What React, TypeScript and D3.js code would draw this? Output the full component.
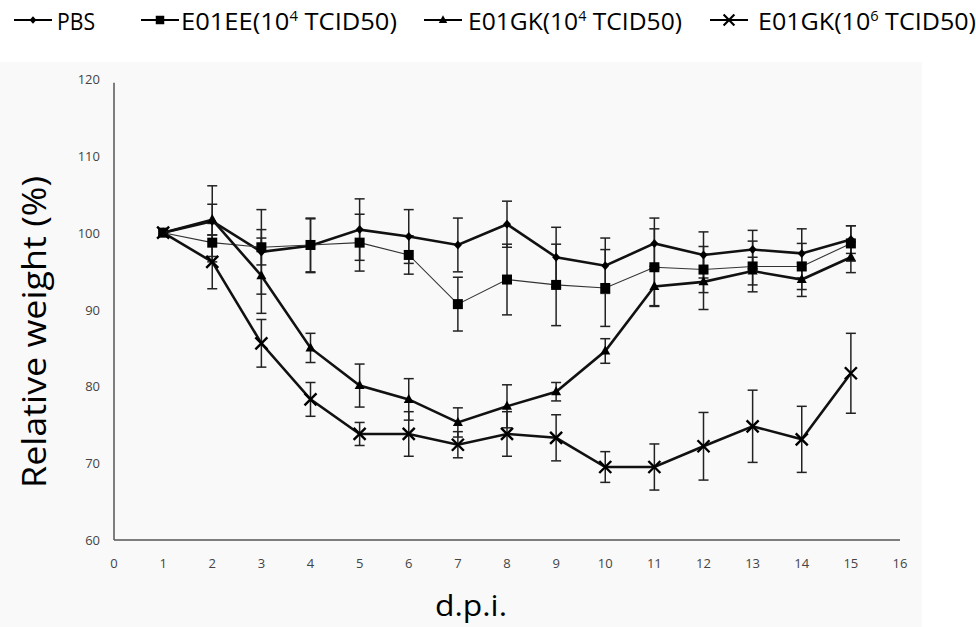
import * as d3 from 'd3';
import React from 'react';

// days post infection
const days = [1, 2, 3, 4, 5, 6, 7, 8, 9, 10, 11, 12, 13, 14, 15];

const pbs = [100, 101.5, 97.5, 98.3, 100.4, 99.5, 98.4, 101.1, 96.8, 95.7, 98.6, 97.1, 97.8, 97.3, 99.1];
const pbsErr = [0, 4.6, 5.5, 3.5, 4.0, 3.5, 3.5, 3.0, 3.9, 3.6, 3.3, 3.0, 2.5, 3.2, 1.8];

const ee4 = [100, 98.7, 98.1, 98.4, 98.7, 97.1, 90.7, 93.9, 93.2, 92.8, 95.5, 95.2, 95.6, 95.6, 98.6];
const ee4Err = [0, 2.5, 2.3, 3.5, 3.7, 2.5, 3.5, 4.6, 5.3, 5.0, 5.0, 3.0, 3.3, 3.0, 2.3];

const gk4 = [100, 101.7, 94.4, 85.0, 80.1, 78.3, 75.3, 77.4, 79.3, 84.6, 93.0, 93.6, 95.0, 93.9, 96.8];
const gk4Err = [0, 2.0, 4.9, 1.9, 2.8, 2.7, 1.9, 2.8, 1.2, 1.6, 2.6, 3.6, 1.8, 2.2, 2.0];

const gk6 = [100, 96.2, 85.6, 78.3, 73.8, 73.8, 72.4, 73.8, 73.3, 69.5, 69.5, 72.2, 74.8, 73.1, 81.7];
const gk6Err = [0, 3.5, 3.1, 2.2, 1.5, 2.9, 1.7, 2.9, 3.0, 2.0, 3.0, 4.4, 4.7, 4.3, 5.2];

const xTicks = d3.range(0, 17);
const yTicks = [60, 70, 80, 90, 100, 110, 120];

const W = 976;
const H = 627;
const m = { left: 114, right: 76, top: 79, bottom: 87 };

type Marker = 'diamond' | 'square' | 'triangle' | 'cross';

const series = [
    { name: 'PBS', sup: '', values: pbs, err: pbsErr, marker: 'diamond' as Marker, width: 2.6, color: '#111' },
    { name: 'E01EE(10', sup: '4', values: ee4, err: ee4Err, marker: 'square' as Marker, width: 1.1, color: '#333' },
    { name: 'E01GK(10', sup: '4', values: gk4, err: gk4Err, marker: 'triangle' as Marker, width: 2.6, color: '#111' },
    { name: 'E01GK(10', sup: '6', values: gk6, err: gk6Err, marker: 'cross' as Marker, width: 2.6, color: '#111' }
];

const legendPos = [
    { line: 14, text: 57, len: 38 },
    { line: 141, text: 181, len: 216 },
    { line: 424, text: 468, len: 214 },
    { line: 710, text: 758, len: 218 }
];

/**
 * Draws one marker centred on 0,0.
 */
function MarkerShape({ kind, x, y, s = 1 }: { kind: Marker; x: number; y: number; s?: number }) {
    const t = `translate(${x},${y}) scale(${s})`;
    if (kind === 'diamond') {
        return <path transform={t} d='M0,-4.5L4,0L0,4.5L-4,0Z' fill='#000' />;
    }
    if (kind === 'square') {
        return <rect transform={t} x={-5} y={-5} width={10} height={10} fill='#000' />;
    }
    if (kind === 'triangle') {
        return <path transform={t} d='M0,-5.5L5,3.5L-5,3.5Z' fill='#000' />;
    }
    return (
        <path
            transform={t}
            d='M-6,-6L6,6M-6,6L6,-6'
            stroke='#000'
            strokeWidth={2.4}
            fill='none' />
    );
}

export default function App() {
    const x = d3.scaleLinear().domain([ 0, 16 ]).range([ m.left, W - m.right ]);
    const y = d3.scaleLinear().domain([ 60, 120 ]).range([ H - m.bottom, m.top ]);

    const line = d3.line<number>()
        .x((_, i) => x(days[i]))
        .y(d => y(d));

    const font = '"Open Sans", "Liberation Sans", sans-serif';

    return (
        <svg
            width={W}
            height={H}
            style={{ position: 'absolute', left: 0, top: 0, background: '#fff' }}
            fontFamily={font}>
            <rect x={0} y={62} width={922} height={H - 62} fill='#f9f9f9' />

            {/* legend */}
            <g>
                {series.map((s, i) => {
                    const p = legendPos[i];
                    return (
                        <g key={i}>
                            <line x1={p.line} x2={p.line + 38} y1={20} y2={20} stroke='#000' strokeWidth={2.2} />
                            <MarkerShape kind={s.marker} x={p.line + 19} y={20} s={s.marker === 'cross' ? 0.9 : 0.85} />
                            <text
                                x={p.text}
                                y={30}
                                fontSize={24}
                                fill='#000'
                                textLength={p.len}
                                lengthAdjust='spacingAndGlyphs'>
                                {s.name}
                                {s.sup && <tspan dy={-9} fontSize={14}>{s.sup}</tspan>}
                                {s.sup && <tspan dy={9}>{' TCID50)'}</tspan>}
                            </text>
                        </g>
                    );
                })}
            </g>

            {/* axes */}
            <line x1={m.left} x2={m.left} y1={y(119.5)} y2={y(60)} stroke='#555' strokeWidth={1.5} />
            <line x1={m.left} x2={x(16)} y1={y(60)} y2={y(60)} stroke='#555' strokeWidth={1.5} />

            {yTicks.map(t => (
                <text key={t} x={100} y={y(t) + 5} textAnchor='end' fontSize={13} fill='#444'>{t}</text>
            ))}
            {xTicks.map(t => (
                <text key={t} x={x(t)} y={y(60) + 28} textAnchor='middle' fontSize={13} fill='#444'>{t}</text>
            ))}

            <text
                transform={`translate(46,${332}) rotate(-90)`}
                textAnchor='middle'
                fontSize={32}
                textLength={312}
                lengthAdjust='spacingAndGlyphs'
                fill='#000'>
                Relative weight (%)
            </text>
            <text x={471} y={616} textAnchor='middle' fontSize={29} textLength={72} lengthAdjust='spacingAndGlyphs' fill='#000'>d.p.i.</text>

            {/* error bars */}
            {series.map((s, si) => (
                <g key={`e${si}`} stroke='#222' strokeWidth={1.5}>
                    {s.values.map((v, i) => {
                        const e = s.err[i];
                        if (!e) return null;
                        const cx = x(days[i]);
                        return (
                            <g key={i}>
                                <line x1={cx} x2={cx} y1={y(v + e)} y2={y(v - e)} />
                                <line x1={cx - 5} x2={cx + 5} y1={y(v + e)} y2={y(v + e)} />
                                <line x1={cx - 5} x2={cx + 5} y1={y(v - e)} y2={y(v - e)} />
                            </g>
                        );
                    })}
                </g>
            ))}

            {/* lines and markers */}
            {series.map((s, si) => (
                <g key={`s${si}`}>
                    <path d={line(s.values) || ''} fill='none' stroke={s.color} strokeWidth={s.width} />
                    {s.values.map((v, i) => (
                        <MarkerShape key={i} kind={s.marker} x={x(days[i])} y={y(v)} />
                    ))}
                </g>
            ))}
        </svg>
    );
}
